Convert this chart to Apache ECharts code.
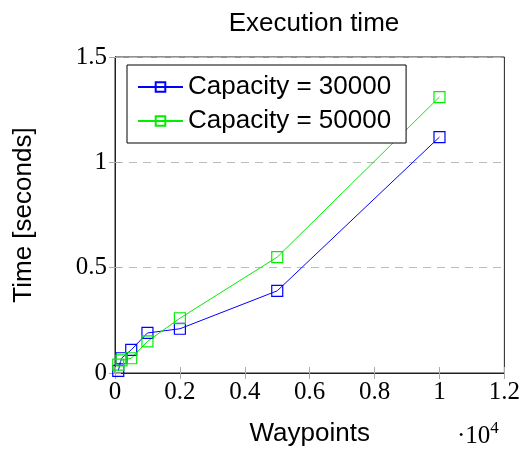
<!DOCTYPE html>
<html><head><meta charset="utf-8">
<script src="https://cdn.jsdelivr.net/npm/echarts@6/dist/echarts.min.js"></script>
<style>html,body{margin:0;padding:0;background:#fff}#c{width:523px;height:452px}</style>
</head><body><div id="c"></div>
<script>
const waypoints = [100, 200, 500, 1000, 2000, 5000, 10000];
const cap30000 = [0.01, 0.07, 0.11, 0.19, 0.21, 0.39, 1.12];
const cap50000 = [0.04, 0.06, 0.07, 0.15, 0.26, 0.55, 1.31];
const seriesNames = ['Capacity = 30000', 'Capacity = 50000'];
const xTicks = [0, 2000, 4000, 6000, 8000, 10000, 12000];
const yTicks = [0, 0.5, 1, 1.5];

const chart = echarts.init(document.getElementById('c'), null, {renderer: 'canvas'});
const serif = 'Liberation Serif';
const sans = 'Liberation Sans';
function mk(name, ys, color) {
  return {
    name: name, type: 'line',
    data: waypoints.map((x, i) => [x, ys[i]]),
    symbol: 'rect', symbolSize: 11,
    lineStyle: {color: color, width: 1},
    itemStyle: {color: 'rgba(255,255,255,0)', borderColor: color, borderWidth: 1.2},
    emphasis: {disabled: true},
    animation: false, z: 3
  };
}
chart.setOption({
  animation: false,
  title: {text: 'Execution time', left: 309, top: 6, textAlign: 'center',
    textStyle: {fontFamily: sans, fontWeight: 'normal', fontSize: 26, color: '#000'}},
  grid: {left: 115, right: 17, top: 57, bottom: 75, show: true, borderColor: '#222', borderWidth: 1, backgroundColor: 'transparent'},
  legend: {
    left: 127, top: 65, orient: 'vertical', itemGap: 8,
    data: seriesNames,
    borderColor: '#000', borderWidth: 1, padding: [9, 15, 9, 10],
    itemWidth: 45, itemHeight: 12,
    textStyle: {fontFamily: sans, fontSize: 26, color: '#000'},
    backgroundColor: '#fff'
  },
  xAxis: [{
    type: 'value', min: 0, max: 12000, interval: 2000,
    name: 'Waypoints', nameLocation: 'middle', nameGap: 48,
    nameTextStyle: {fontFamily: sans, fontSize: 26, color: '#000'},
    axisLine: {show: true, lineStyle: {color: '#222'}},
    axisTick: {show: true, inside: true, length: 6, lineStyle: {color: '#aaa'}},
    axisLabel: {fontFamily: serif, fontSize: 25, color: '#000', margin: 7,
      formatter: v => String(+(v / 10000).toFixed(1))},
    splitLine: {show: false}
  }, {
    type: 'value', min: 0, max: 12000, interval: 2000, position: 'top',
    axisLine: {show: true, lineStyle: {color: '#222'}},
    axisTick: {show: true, inside: true, length: 6, lineStyle: {color: '#aaa'}},
    axisLabel: {show: false}, splitLine: {show: false}
  }],
  yAxis: [{
    type: 'value', min: 0, max: 1.5, interval: 0.5,
    name: 'Time [seconds]', nameLocation: 'middle', nameGap: 78, nameRotate: 90,
    nameTextStyle: {fontFamily: sans, fontSize: 26, color: '#000'},
    axisLine: {show: true, lineStyle: {color: '#222'}},
    axisTick: {show: true, inside: true, length: 6, lineStyle: {color: '#aaa'}},
    axisLabel: {fontFamily: serif, fontSize: 25, color: '#000', margin: 8,
      formatter: v => String(v)},
    splitLine: {show: true, lineStyle: {color: '#bbb', type: [8, 6], width: 1}}
  }, {
    type: 'value', min: 0, max: 1.5, interval: 0.5, position: 'right',
    axisLine: {show: true, lineStyle: {color: '#222'}},
    axisTick: {show: true, inside: true, length: 6, lineStyle: {color: '#aaa'}},
    axisLabel: {show: false}, splitLine: {show: false}
  }],
  series: [mk(seriesNames[0], cap30000, '#0000ff'), mk(seriesNames[1], cap50000, '#00ee00')],
  graphic: [{
    type: 'text', left: 457, top: 420,
    style: {
      text: '{a|·10}{b|4}',
      rich: {
        a: {fontFamily: serif, fontSize: 25, fill: '#000', verticalAlign: 'bottom'},
        b: {fontFamily: serif, fontSize: 17, fill: '#000', verticalAlign: 'top', padding: [0, 0, 12, 0]}
      }
    }
  }]
});
</script></body></html>
